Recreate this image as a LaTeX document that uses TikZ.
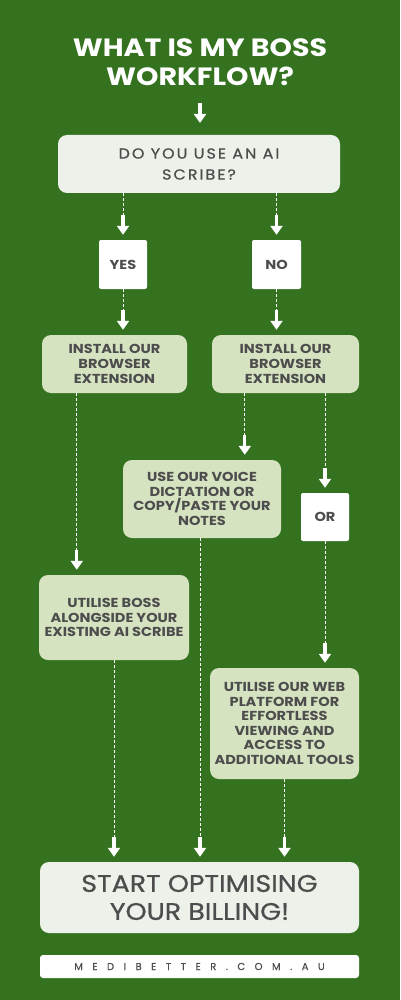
\documentclass[tikz,border=0pt]{standalone}
\usepackage{fontspec}
\setmainfont{Poppins}
\usetikzlibrary{arrows.meta,calc}
\definecolor{bg}{RGB}{53,114,32}
\definecolor{boxmid}{RGB}{213,227,193}
\definecolor{boxlight}{RGB}{236,242,233}
\definecolor{txt}{RGB}{77,77,77}
\tikzset{
  dashln/.style={white,line width=1pt,dash pattern=on 3pt off 2pt},
  solidarr/.style={white,line width=3.2pt,-{Triangle[width=12pt,length=9pt]}},
  midbox/.style={fill=boxmid,rounded corners=9pt,align=center,text=txt,font=\bfseries\fontsize{13}{14.6}\selectfont\addfontfeature{FakeStretch=1.12},inner sep=0pt},
  whitebox/.style={fill=white,rounded corners=2pt,align=center,text=txt,font=\bfseries\fontsize{13}{14.6}\selectfont\addfontfeature{FakeStretch=1.12},inner sep=0pt},
}
\newcommand\flowarrow[2]{%
  \draw[dashln] (#1) -- ($(#2)+(0pt,25pt)$);
  \draw[solidarr] ($(#2)+(0pt,25pt)$) -- ($(#2)+(0pt,5pt)$);}
\begin{document}
\begin{tikzpicture}[x=1pt,y=-1pt]
\fill[bg] (0,0) rectangle (400,1000);
\useasboundingbox (0,0) rectangle (400,1000);
\node[white,font=\bfseries\fontsize{25}{29}\selectfont\addfontfeature{FakeStretch=1.14},align=center] (title) at (200,62) {WHAT IS MY BOSS\\WORKFLOW?};
\node[fill=boxlight,rounded corners=9pt,minimum width=282pt,minimum height=58pt,inner sep=0pt,align=center,text=txt,font=\fontsize{14.5}{21}\selectfont\addfontfeature{LetterSpace=14,FakeStretch=1.1,FakeBold=0.7}] (top) at (199,164) {DO YOU USE AN AI\\SCRIBE?};
\coordinate (ta) at (200,103);
\coordinate (tb) at (200,123);
\draw[solidarr] (ta) -- (tb);
\node[whitebox,minimum width=48pt,minimum height=49pt] (yes) at (123,264.5) {YES};
\node[whitebox,minimum width=49pt,minimum height=49pt] (no) at (276.5,264.5) {NO};
\node[midbox,minimum width=145pt,minimum height=58pt] (inst1) at (114.5,364) {INSTALL OUR\\BROWSER\\EXTENSION};
\node[midbox,minimum width=147pt,minimum height=58pt] (inst2) at (285.5,364) {INSTALL OUR\\BROWSER\\EXTENSION};
\node[midbox,minimum width=158pt,minimum height=78pt] (voice) at (202,499) {USE OUR VOICE\\DICTATION OR\\COPY/PASTE YOUR\\NOTES};
\node[whitebox,minimum width=48pt,minimum height=48pt] (or) at (325,517) {OR};
\node[midbox,minimum width=150pt,minimum height=85pt] (boss) at (114,617.5) {UTILISE BOSS\\ALONGSIDE YOUR\\EXISTING AI SCRIBE};
\node[midbox,minimum width=149pt,minimum height=111pt] (web) at (284.5,723.5) {UTILISE OUR WEB\\PLATFORM FOR\\EFFORTLESS\\VIEWING AND\\ACCESS TO\\ADDITIONAL TOOLS};
\node[fill=boxlight,rounded corners=9pt,minimum width=319pt,minimum height=71pt,inner sep=0pt,align=center,text=txt,font=\fontsize{24}{28}\selectfont\addfontfeature{FakeStretch=1.12,FakeBold=0.8}] (final) at (199.5,897.5) {START OPTIMISING\\YOUR BILLING!};
\node[fill=white,rounded corners=3pt,minimum width=319pt,minimum height=23pt,inner sep=0pt,text=txt,font=\fontsize{10}{12}\selectfont\addfontfeature{LetterSpace=95,FakeBold=0.5}] (url) at (199.5,966.5) {MEDIBETTER.COM.AU};
% connectors
\flowarrow{top.south -| yes.north}{yes.north}
\flowarrow{top.south -| no.north}{no.north}
\flowarrow{yes.south}{inst1.north -| yes.south}
\flowarrow{no.south}{inst2.north -| no.south}
\path (inst2.south west) ++(33,0) coordinate (s2);
\flowarrow{s2}{voice.north -| s2}
\flowarrow{inst2.south -| or.north}{or.north}
\path (inst1.south west) ++(35,0) coordinate (s1);
\flowarrow{s1}{boss.north -| s1}
\flowarrow{or.south}{web.north -| or.south}
\flowarrow{boss.south}{final.north -| boss.south}
\path (voice.south) ++(-2,0) coordinate (s3);
\flowarrow{s3}{final.north -| s3}
\flowarrow{web.south}{final.north -| web.south}
\end{tikzpicture}
\end{document}
